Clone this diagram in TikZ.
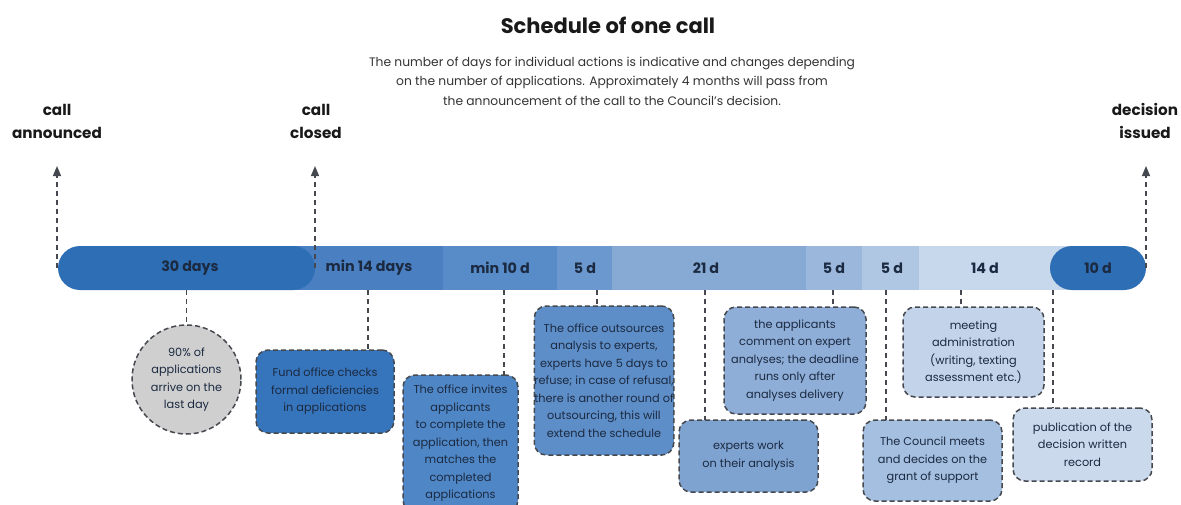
\documentclass[tikz,border=0pt]{standalone}
\usepackage{fontspec}
\setmainfont{Poppins}
\usetikzlibrary{arrows.meta,shapes.geometric}
\definecolor{navy}{HTML}{1B2A41}
\definecolor{dashc}{HTML}{45494F}
\definecolor{cA}{HTML}{2E6EB5}
\definecolor{cB}{HTML}{4A80C2}
\definecolor{cC}{HTML}{588CC8}
\definecolor{cD}{HTML}{6B99CF}
\definecolor{cE}{HTML}{87AAD4}
\definecolor{cF}{HTML}{9BB8DC}
\definecolor{cG}{HTML}{B0C7E4}
\definecolor{cH}{HTML}{C8D8EC}
\definecolor{bFund}{HTML}{3674BB}
\definecolor{bInv}{HTML}{4F86C6}
\definecolor{bOut}{HTML}{5E8EC8}
\definecolor{bExp}{HTML}{7FA3D1}
\definecolor{bApp}{HTML}{8EADD7}
\definecolor{bCou}{HTML}{A4BFE0}
\definecolor{bMee}{HTML}{C2D3EA}
\definecolor{bPub}{HTML}{CBD9ED}
\definecolor{bCirc}{HTML}{CFCFCF}
\begin{document}
\begin{tikzpicture}[x=1pt,y=-1pt,
  seg/.style={rectangle, minimum height=44pt, inner sep=0pt, outer sep=0pt},
  pill/.style={seg, rounded corners=22pt},
  barlabel/.style={font=\bfseries\fontsize{14.3}{16}\selectfont, text=navy},
  head/.style={font=\bfseries\fontsize{15.2}{23}\selectfont, text=black!90, align=center},
  box/.style={draw=dashc, dash pattern=on 5pt off 3pt, line width=1.5pt, rounded corners=12pt,
     align=center, font=\fontsize{11.3}{17.5}\selectfont, text=navy, inner sep=0pt},
  updash/.style={draw=dashc, dash pattern=on 5pt off 4pt, line width=1.3pt, -{Triangle[width=8pt,length=10pt]}},
  conn/.style={draw=dashc, dash pattern=on 5pt off 4pt, line width=1.3pt}
]
\useasboundingbox (0,0) rectangle (1181,504);

% title
\node[font=\bfseries\fontsize{21}{24}\selectfont, text=black!90] (title) at (608,25) {Schedule of one call};
\node[font=\fontsize{12.3}{19.5}\selectfont, align=center, text=black!80] (sub) at (612,81)
  {The number of days for individual actions is indicative and changes depending\\
   on the number of applications. Approximately 4 months will pass from\\
   the announcement of the call to the Council's decision.};

% header labels
\node[head] (hA) at (57,121) {call\\announced};
\node[head] (hB) at (316,121) {call\\closed};
\node[head] (hC) at (1145,121) {decision\\issued};

% bar
\node[seg, fill=cH, minimum width=153pt, anchor=west] (s14d) at (919,268) {};
\node[seg, fill=cG, minimum width=57pt, anchor=west] (s5c) at (862,268) {};
\node[seg, fill=cF, minimum width=56pt, anchor=west] (s5b) at (806,268) {};
\node[seg, fill=cE, minimum width=194pt, anchor=west] (s21) at (612,268) {};
\node[seg, fill=cD, minimum width=55pt, anchor=west] (s5a) at (557,268) {};
\node[seg, fill=cC, minimum width=114pt, anchor=west] (s10) at (443,268) {};
\node[seg, fill=cB, minimum width=150pt, anchor=west] (s14) at (293,268) {};
\node[pill, fill=cA, minimum width=257pt, anchor=west] (s30) at (58,268) {};
\node[pill, fill=cA, minimum width=96pt, anchor=west] (s10d) at (1050,268) {};

\node[barlabel] (l30) at (190,268) {30 days};
\node[barlabel] (l14) at (369,268) {min 14 days};
\node[barlabel] (l10) at (500,268) {min 10 d};
\node[barlabel] (l5a) at (585,268) {5 d};
\node[barlabel] (l21) at (706,268) {21 d};
\node[barlabel] (l5b) at (834,268) {5 d};
\node[barlabel] (l5c) at (892,268) {5 d};
\node[barlabel] (l14d) at (985,268) {14 d};
\node[barlabel] (l10d) at (1098,268) {10 d};

% up arrows
\coordinate (tA) at (57,166);
\coordinate (tB) at (315,166);
\coordinate (tC) at (1146,166);
\draw[updash] (tA |- s30.west) -- (tA);
\draw[updash] (tB |- s30.east) -- (tB);
\draw[updash] (s10d.east) -- (tC);

% boxes
\node[box, circle, fill=bCirc, minimum size=109pt] (circ) at (186.5,379.5) {90\% of\\applications\\arrive on the\\last day};
\node[box, fill=bFund, minimum width=138pt, minimum height=83pt] (fund) at (325,391.5) {Fund office checks\\formal deficiencies\\in applications};
\node[box, fill=bInv, minimum width=115pt, minimum height=137pt] (inv) at (460.5,443.5) {The office invites\\applicants\\to complete the\\application, then\\matches the\\completed\\applications};
\node[box, fill=bOut, minimum width=138pt, minimum height=149pt] (outs) at (604,380.5) {The office outsources\\analysis to experts,\\experts have 5 days to\\refuse; in case of refusal,\\there is another round of\\outsourcing, this will\\extend the schedule};
\node[box, fill=bExp, minimum width=139pt, minimum height=72pt] (exp) at (748.5,456) {experts work\\on their analysis};
\node[box, fill=bApp, minimum width=142pt, minimum height=107pt] (app) at (795,360.5) {the applicants\\comment on expert\\analyses; the deadline\\runs only after\\analyses delivery};
\node[box, fill=bCou, minimum width=139pt, minimum height=81pt] (cou) at (932.5,460.5) {The Council meets\\and decides on the\\grant of support};
\node[box, fill=bMee, minimum width=141pt, minimum height=90pt] (mee) at (973.5,352) {meeting\\administration\\(writing, texting\\assessment etc.)};
\node[box, fill=bPub, minimum width=139pt, minimum height=73pt] (pub) at (1082.5,444.5) {publication of the\\decision written\\record};

% connectors
\coordinate (k2) at (368,350);
\coordinate (k3) at (504,375);
\coordinate (k4) at (597,306);
\coordinate (k5) at (705,420);
\coordinate (k6) at (833,307);
\coordinate (k7) at (886,420);
\coordinate (k8) at (961,307);
\coordinate (k9) at (1053,408);
\draw[conn] (circ.north |- s30.south) -- (circ.north);
\draw[conn] (k2 |- s14.south) -- (k2);
\draw[conn] (k3 |- s10.south) -- (k3);
\draw[conn] (k4 |- s5a.south) -- (k4);
\draw[conn] (k5 |- s21.south) -- (k5);
\draw[conn] (k6 |- s5b.south) -- (k6);
\draw[conn] (k7 |- s5c.south) -- (k7);
\draw[conn] (k8 |- s14d.south) -- (k8);
\draw[conn] (k9 |- s14d.south) -- (k9);
\end{tikzpicture}
\end{document}
